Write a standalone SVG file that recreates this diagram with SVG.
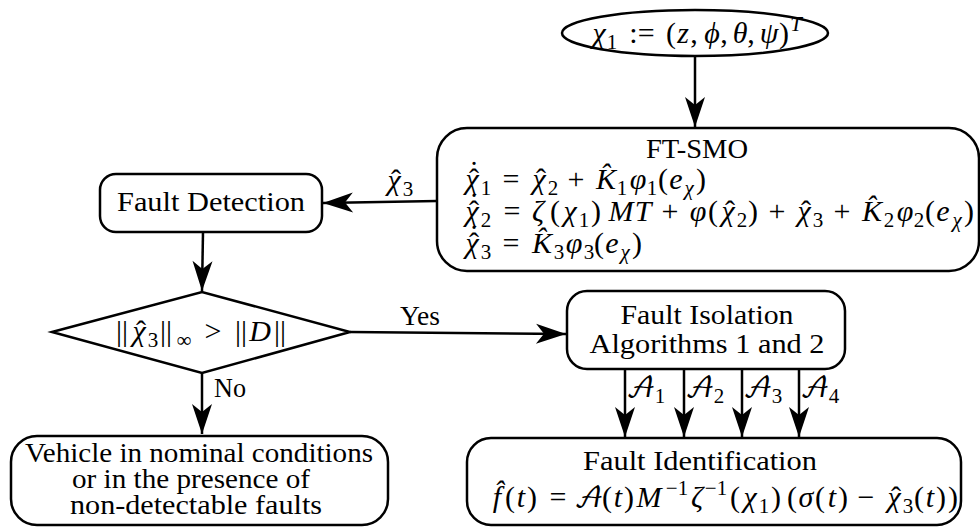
<svg xmlns="http://www.w3.org/2000/svg" width="980" height="531" viewBox="0 0 980 531">
<style>
.n{fill:#fff;stroke:#000;stroke-width:2.5}
.t{font-family:"Liberation Serif","DejaVu Serif",serif;font-size:27px;fill:#000;text-anchor:middle}
.m{font-family:"Liberation Serif","DejaVu Serif",serif;font-size:30px;fill:#000;text-anchor:middle}
.i{font-style:italic}
.s{font-size:21px}
.cal{font-family:"DejaVu Math TeX Gyre","DejaVu Serif",serif;font-style:normal;font-size:28px}
.c{fill:none;stroke:#000;stroke-width:2.5}
</style>
<defs>
<marker id="ah" viewBox="-32 -11 34 22" markerWidth="34" markerHeight="22" refX="0" refY="0" orient="auto" markerUnits="userSpaceOnUse">
<path d="M0,0 L-30,-10 L-22,0 L-30,10 Z" fill="#000"/>
</marker>
</defs>
<rect width="980" height="531" fill="#fff"/>
<g id="connectors">
<path class="c" d="M695,56 L695,127" marker-end="url(#ah)"/>
<path class="c" d="M437,201 L323,203" marker-end="url(#ah)"/>
<path class="c" d="M203,232 L202,291" marker-end="url(#ah)"/>
<path class="c" d="M350,332 L566,334" marker-end="url(#ah)"/>
<path class="c" d="M202,373 L202,434" marker-end="url(#ah)"/>
<path class="c" d="M625,369 L625,437" marker-end="url(#ah)"/>
<path class="c" d="M684,369 L684,437" marker-end="url(#ah)"/>
<path class="c" d="M742,369 L742,437" marker-end="url(#ah)"/>
<path class="c" d="M799,369 L799,437" marker-end="url(#ah)"/>
<text class="m"><tspan class="i" x="394" y="190">χ</tspan><tspan x="396" y="190">ˆ</tspan><tspan class="s" x="408" y="196">3</tspan></text>
<text class="t" x="420" y="325" textLength="40" lengthAdjust="spacingAndGlyphs">Yes</text>
<text class="t" x="230" y="397" textLength="32" lengthAdjust="spacingAndGlyphs">No</text>
<text class="m"><tspan class="cal" x="641" y="397">𝒜</tspan><tspan class="s" x="660" y="403">1</tspan><tspan class="cal" x="700" y="397">𝒜</tspan><tspan class="s" x="719" y="403">2</tspan><tspan class="cal" x="758" y="397">𝒜</tspan><tspan class="s" x="777" y="403">3</tspan><tspan class="cal" x="815" y="397">𝒜</tspan><tspan class="s" x="834" y="403">4</tspan></text>
</g>
<g id="input">
<ellipse class="n" cx="695" cy="33" rx="133" ry="23"/>
<text class="m"><tspan class="i" x="599" y="43">χ</tspan><tspan class="s" x="612" y="49">1</tspan><tspan x="642" y="43">:=</tspan><tspan x="671" y="43">(</tspan><tspan class="i" x="683" y="43">z</tspan><tspan x="694" y="43">,</tspan><tspan class="i" x="712" y="43">ϕ</tspan><tspan x="724" y="43">,</tspan><tspan class="i" x="740" y="43">θ</tspan><tspan x="751" y="43">,</tspan><tspan class="i" x="769" y="43">ψ</tspan><tspan x="784" y="43">)</tspan><tspan class="s i" x="796" y="31">T</tspan></text>
</g>
<g id="ftsmo">
<rect class="n" x="437" y="128" width="542" height="143" rx="30"/>
<text class="t" x="697" y="158" textLength="102" lengthAdjust="spacingAndGlyphs">FT-SMO</text>
<text class="m"><tspan class="i" x="472" y="189">χ</tspan><tspan x="474" y="189">ˆ</tspan><tspan x="474" y="182">˙</tspan><tspan class="s" x="486" y="195">1</tspan><tspan x="511" y="189">=</tspan><tspan class="i" x="539" y="189">χ</tspan><tspan x="541" y="189">ˆ</tspan><tspan class="s" x="553" y="195">2</tspan><tspan x="576" y="189">+</tspan><tspan class="i" x="606" y="189">K̂</tspan><tspan class="s" x="622" y="195">1</tspan><tspan class="i" x="638" y="189">φ</tspan><tspan class="s" x="652" y="195">1</tspan><tspan x="663" y="189">(</tspan><tspan class="i" x="676" y="189">e</tspan><tspan class="s i" x="689" y="195">χ</tspan><tspan x="701" y="189">)</tspan></text>
<text class="m"><tspan class="i" x="472" y="221">χ</tspan><tspan x="474" y="221">ˆ</tspan><tspan x="474" y="214">˙</tspan><tspan class="s" x="486" y="227">2</tspan><tspan x="512" y="221">=</tspan><tspan class="i" x="538" y="221">ζ</tspan><tspan x="555" y="221">(</tspan><tspan class="i" x="570" y="221">χ</tspan><tspan class="s" x="584" y="227">1</tspan><tspan x="596" y="221">)</tspan><tspan class="i" x="621" y="221">M</tspan><tspan class="i" x="643" y="221">T</tspan><tspan x="670" y="221">+</tspan><tspan class="i" x="698" y="221">φ</tspan><tspan x="713" y="221">(</tspan><tspan class="i" x="728" y="221">χ</tspan><tspan x="730" y="221">ˆ</tspan><tspan class="s" x="742" y="227">2</tspan><tspan x="753" y="221">)</tspan><tspan x="777" y="221">+</tspan><tspan class="i" x="804" y="221">χ</tspan><tspan x="806" y="221">ˆ</tspan><tspan class="s" x="818" y="227">3</tspan><tspan x="842" y="221">+</tspan><tspan class="i" x="872" y="221">K̂</tspan><tspan class="s" x="889" y="227">2</tspan><tspan class="i" x="905" y="221">φ</tspan><tspan class="s" x="919" y="227">2</tspan><tspan x="930" y="221">(</tspan><tspan class="i" x="943" y="221">e</tspan><tspan class="s i" x="957" y="227">χ</tspan><tspan x="969" y="221">)</tspan></text>
<text class="m"><tspan class="i" x="472" y="253">χ</tspan><tspan x="474" y="253">ˆ</tspan><tspan x="474" y="246">˙</tspan><tspan class="s" x="486" y="259">3</tspan><tspan x="511" y="253">=</tspan><tspan class="i" x="542" y="253">K̂</tspan><tspan class="s" x="559" y="259">3</tspan><tspan class="i" x="574" y="253">φ</tspan><tspan class="s" x="589" y="259">3</tspan><tspan x="599" y="253">(</tspan><tspan class="i" x="612" y="253">e</tspan><tspan class="s i" x="625" y="259">χ</tspan><tspan x="637" y="253">)</tspan></text>
</g>
<g id="detection">
<rect class="n" x="100" y="174" width="222" height="58" rx="16"/>
<text class="t" x="211" y="211" textLength="188" lengthAdjust="spacingAndGlyphs">Fault Detection</text>
</g>
<g id="decision">
<polygon class="n" points="52,332 202,292 350,332 202,373"/>
<text class="m"><tspan x="122" y="341">||</tspan><tspan class="i" x="139" y="341">χ</tspan><tspan x="141" y="341">ˆ</tspan><tspan class="s" x="153" y="347">3</tspan><tspan x="166" y="341">||</tspan><tspan class="s" x="184" y="347">∞</tspan><tspan x="213" y="341">&gt;</tspan><tspan x="241" y="341">||</tspan><tspan class="i" x="260" y="341">D</tspan><tspan x="280" y="341">||</tspan></text>
</g>
<g id="isolation">
<rect class="n" x="567" y="291" width="278" height="78" rx="20"/>
<text class="t" x="707" y="324" textLength="173" lengthAdjust="spacingAndGlyphs">Fault Isolation</text>
<text class="t" x="707" y="353" textLength="235" lengthAdjust="spacingAndGlyphs">Algorithms 1 and 2</text>
</g>
<g id="nominal">
<rect class="n" x="11" y="436" width="377" height="89" rx="26"/>
<text class="t" x="199" y="462" textLength="348" lengthAdjust="spacingAndGlyphs">Vehicle in nominal conditions</text>
<text class="t" x="191" y="488" textLength="238" lengthAdjust="spacingAndGlyphs">or in the presence of</text>
<text class="t" x="196" y="514" textLength="252" lengthAdjust="spacingAndGlyphs">non-detectable faults</text>
</g>
<g id="identification">
<rect class="n" x="467" y="438" width="494" height="87" rx="24"/>
<text class="t" x="700" y="470" textLength="234" lengthAdjust="spacingAndGlyphs">Fault Identification</text>
<text class="m"><tspan class="i" x="497" y="507">f̂</tspan><tspan x="510" y="507">(</tspan><tspan class="i" x="521" y="507">t</tspan><tspan x="532" y="507">)</tspan><tspan x="558" y="507">=</tspan><tspan class="cal" x="589" y="507">𝒜</tspan><tspan x="607" y="507">(</tspan><tspan class="i" x="618" y="507">t</tspan><tspan x="629" y="507">)</tspan><tspan class="i" x="649" y="507">M</tspan><tspan class="s" x="677" y="495">−1</tspan><tspan class="i" x="697" y="507">ζ</tspan><tspan class="s" x="716" y="495">−1</tspan><tspan x="735" y="507">(</tspan><tspan class="i" x="750" y="507">χ</tspan><tspan class="s" x="764" y="513">1</tspan><tspan x="776" y="507">)</tspan><tspan x="792" y="507">(</tspan><tspan class="i" x="806" y="507">σ</tspan><tspan x="820" y="507">(</tspan><tspan class="i" x="832" y="507">t</tspan><tspan x="843" y="507">)</tspan><tspan x="866" y="507">−</tspan><tspan class="i" x="894" y="507">χ</tspan><tspan x="896" y="507">ˆ</tspan><tspan class="s" x="908" y="513">3</tspan><tspan x="919" y="507">(</tspan><tspan class="i" x="930" y="507">t</tspan><tspan x="941" y="507">)</tspan><tspan x="953" y="507">)</tspan></text>
</g>
</svg>
